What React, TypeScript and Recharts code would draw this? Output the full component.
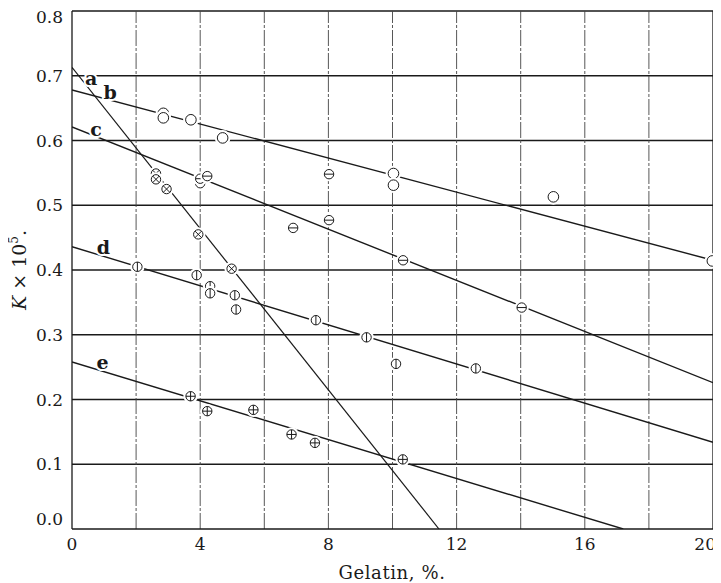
import React from 'react';
import { ComposedChart, Line, Scatter, XAxis, YAxis, ReferenceLine, Label } from 'recharts';

const xTicks = [0, 4, 8, 12, 16, 20];
const yTicks = [0, 0.1, 0.2, 0.3, 0.4, 0.5, 0.6, 0.7, 0.8];
const xGrid = [2, 4, 6, 8, 10, 12, 14, 16, 18];
const yGrid = [0.1, 0.2, 0.3, 0.4, 0.5, 0.6, 0.7, 0.8];

const seriesA = [
  { x: 2.62, y: 0.549 }, { x: 2.62, y: 0.54 }, { x: 2.95, y: 0.525 },
  { x: 3.94, y: 0.455 }, { x: 4.98, y: 0.402 },
];
const seriesB = [
  { x: 2.85, y: 0.642 }, { x: 2.85, y: 0.635 }, { x: 3.71, y: 0.632 }, { x: 4.7, y: 0.604 },
  { x: 10.03, y: 0.549 }, { x: 10.03, y: 0.531 }, { x: 15.02, y: 0.513 }, { x: 19.98, y: 0.414 },
];
const seriesC = [
  { x: 4.0, y: 0.534 }, { x: 4.0, y: 0.541 }, { x: 4.22, y: 0.545 }, { x: 6.9, y: 0.465 },
  { x: 8.02, y: 0.548 }, { x: 8.02, y: 0.477 }, { x: 10.33, y: 0.415 }, { x: 14.03, y: 0.342 },
];
const seriesD = [
  { x: 2.04, y: 0.405 }, { x: 3.89, y: 0.392 }, { x: 4.31, y: 0.375 }, { x: 4.31, y: 0.364 },
  { x: 5.08, y: 0.361 }, { x: 5.12, y: 0.339 }, { x: 7.61, y: 0.3225 }, { x: 9.19, y: 0.296 },
  { x: 10.11, y: 0.255 }, { x: 12.6, y: 0.248 },
];
const seriesE = [
  { x: 3.7, y: 0.205 }, { x: 4.22, y: 0.182 }, { x: 5.66, y: 0.184 },
  { x: 6.85, y: 0.146 }, { x: 7.58, y: 0.133 }, { x: 10.32, y: 0.1075 },
];

const lineA = [{ x: 0, y: 0.713 }, { x: 11.45, y: 0 }];
const lineB = [{ x: 0, y: 0.678 }, { x: 20, y: 0.415 }];
const lineC = [{ x: 0, y: 0.621 }, { x: 20, y: 0.226 }];
const lineD = [{ x: 0, y: 0.436 }, { x: 20, y: 0.134 }];
const lineE = [{ x: 0, y: 0.258 }, { x: 17.2, y: 0 }];

const curveLabels = [
  { x: 0.6, y: 0.696, name: 'a' },
  { x: 1.19, y: 0.675, name: 'b' },
  { x: 0.75, y: 0.617, name: 'c' },
  { x: 0.98, y: 0.435, name: 'd' },
  { x: 0.95, y: 0.258, name: 'e' },
];

const FONT = '"DejaVu Serif", "Liberation Serif", serif';
const INK = '#1a1a1a';

const makeMarker = (kind: string, r: number) => (props: any) => {
  const { cx, cy } = props;
  if (cx == null || cy == null) return <g />;
  const d = r * 0.70710678;
  return (
    <g>
      <circle cx={cx} cy={cy} r={r + 2.5} fill="#fff" />
      <circle cx={cx} cy={cy} r={r} fill="#fff" stroke={INK} strokeWidth={1} />
      {kind === 'h' && <line x1={cx - r} y1={cy} x2={cx + r} y2={cy} stroke={INK} strokeWidth={1} />}
      {kind === 'v' && <line x1={cx} y1={cy - r} x2={cx} y2={cy + r} stroke={INK} strokeWidth={1} />}
      {kind === 'p' && (
        <g>
          <line x1={cx - r} y1={cy} x2={cx + r} y2={cy} stroke={INK} strokeWidth={1} />
          <line x1={cx} y1={cy - r} x2={cx} y2={cy + r} stroke={INK} strokeWidth={1} />
        </g>
      )}
      {kind === 'x' && (
        <g>
          <line x1={cx - d} y1={cy - d} x2={cx + d} y2={cy + d} stroke={INK} strokeWidth={1} />
          <line x1={cx - d} y1={cy + d} x2={cx + d} y2={cy - d} stroke={INK} strokeWidth={1} />
        </g>
      )}
    </g>
  );
};

const LetterShape = (props: any) => {
  const { cx, cy, payload } = props;
  if (cx == null || cy == null) return <g />;
  return (
    <text
      x={cx}
      y={cy}
      dy="0.35em"
      textAnchor="middle"
      fontFamily={FONT}
      fontWeight="bold"
      fontSize={19}
      fill={INK}
      stroke="#fff"
      strokeWidth={4}
      paintOrder="stroke"
    >
      {payload.name}
    </text>
  );
};

const YTick = (props: any) => {
  const { x, y, payload } = props;
  const shift = payload.value === 0 ? -10 : 0;
  return (
    <text x={x} y={y + shift} dy="0.36em" textAnchor="end" fontFamily={FONT} fontSize={17} fill={INK}>
      {Number(payload.value).toFixed(1)}
    </text>
  );
};

const XTick = (props: any) => {
  const { x, y, payload } = props;
  const last = payload.value === 20;
  return (
    <text
      x={last ? x + 3 : x}
      y={y}
      dy="0.75em"
      textAnchor={last ? 'end' : 'middle'}
      fontFamily={FONT}
      fontSize={17}
      fill={INK}
    >
      {payload.value}
    </text>
  );
};

export default function App() {
  return (
    <div style={{ background: '#fff' }}>
      <ComposedChart width={713} height={575} margin={{ top: 3, right: 8, bottom: 0, left: 0 }}>
        <XAxis
          type="number"
          dataKey="x"
          domain={[0, 20]}
          ticks={xTicks}
          allowDataOverflow
          height={54}
          tickLine={false}
          tickSize={0}
          tickMargin={8}
          tick={XTick}
          axisLine={{ stroke: INK, strokeWidth: 1.3 }}
        >
          <Label
            content={() => (
              <text x={384} y={571} textAnchor="middle" fontFamily={FONT} fontSize={18} fill={INK} letterSpacing={0.6}>
                Gelatin, %.
              </text>
            )}
          />
        </XAxis>
        <YAxis
          type="number"
          dataKey="y"
          domain={[0, 0.8]}
          ticks={yTicks}
          allowDataOverflow
          width={64}
          tickLine={false}
          tickSize={0}
          tickMargin={9}
          tick={YTick}
          axisLine={{ stroke: INK, strokeWidth: 1.3 }}
        >
          <Label
            content={() => (
              <text
                x={18}
                y={262}
                transform="rotate(-90 18 262)"
                textAnchor="middle"
                fontFamily={FONT}
                fontSize={19}
                fill={INK}
              >
                <tspan fontStyle="italic">K</tspan>
                <tspan> × 10</tspan>
                <tspan fontSize={12} dy={-8}>5</tspan>
                <tspan dy={8}>.</tspan>
              </text>
            )}
          />
        </YAxis>

        {yGrid.map((v) => (
          <ReferenceLine key={'h' + v} y={v} stroke={INK} strokeWidth={1.3} />
        ))}
        {xGrid.map((v) => (
          <ReferenceLine key={'v' + v} x={v} stroke="#444" strokeWidth={0.9} strokeDasharray="16 2 3 2" />
        ))}
        <ReferenceLine x={20} stroke={INK} strokeWidth={1.3} />

        <Line data={lineA} dataKey="y" stroke={INK} strokeWidth={1.2} dot={false} isAnimationActive={false} />
        <Line data={lineB} dataKey="y" stroke={INK} strokeWidth={1.4} dot={false} isAnimationActive={false} />
        <Line data={lineC} dataKey="y" stroke={INK} strokeWidth={1.4} dot={false} isAnimationActive={false} />
        <Line data={lineD} dataKey="y" stroke={INK} strokeWidth={1.4} dot={false} isAnimationActive={false} />
        <Line data={lineE} dataKey="y" stroke={INK} strokeWidth={1.4} dot={false} isAnimationActive={false} />

        <Scatter data={seriesA} dataKey="y" shape={makeMarker('x', 4.7)} isAnimationActive={false} />
        <Scatter data={seriesB} dataKey="y" shape={makeMarker('o', 5.3)} isAnimationActive={false} />
        <Scatter data={seriesC} dataKey="y" shape={makeMarker('h', 4.7)} isAnimationActive={false} />
        <Scatter data={seriesD} dataKey="y" shape={makeMarker('v', 4.7)} isAnimationActive={false} />
        <Scatter data={seriesE} dataKey="y" shape={makeMarker('p', 4.7)} isAnimationActive={false} />
        <Scatter data={curveLabels} dataKey="y" shape={LetterShape} isAnimationActive={false} />
      </ComposedChart>
    </div>
  );
}
